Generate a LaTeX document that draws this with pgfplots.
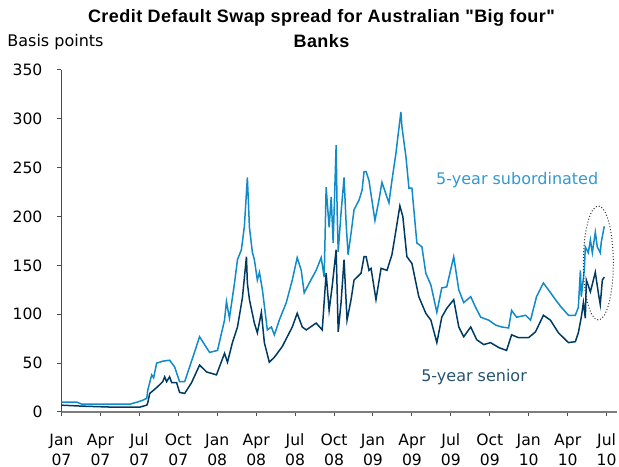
\documentclass[border=0pt]{standalone}
\usepackage{fontspec}
\setmainfont{DejaVu Sans}
\newfontfamily\titlefont[LetterSpace=2.5]{Liberation Sans}
\usepackage{pgfplots}
\pgfplotsset{compat=1.18}
\usetikzlibrary{calc}
\definecolor{subc}{RGB}{16,138,200}
\definecolor{senc}{RGB}{0,58,99}
\definecolor{sublab}{RGB}{52,152,207}
\definecolor{senlab}{RGB}{38,84,114}
\definecolor{axgray}{RGB}{125,125,125}
\begin{document}
\begin{tikzpicture}
\begin{axis}[
  scale only axis,
  width=277.75pt, height=171pt,
  xmin=0, xmax=42.8, ymin=0, ymax=350,
  axis x line=bottom, axis y line=left,
  x axis line style={-, line width=1pt, color=axgray},
  y axis line style={-, line width=0.6pt, color=black!70},
  tick align=outside,
  major tick length=2pt,
  tick style={color=black!70, line width=0.5pt},
  xtick={0,3,...,42},
  xticklabels={Jan\\07,Apr\\07,Jul\\07,Oct\\07,Jan\\08,Apr\\08,Jul\\08,Oct\\08,Jan\\09,Apr\\09,Jul\\09,Oct\\09,Jan\\10,Apr\\10,Jul\\10},
  xticklabel style={align=center, font=\fontsize{7.8}{10}\selectfont, yshift=-5.5pt},
  ytick={0,50,...,350},
  yticklabel style={font=\fontsize{7.8}{10}\selectfont, xshift=-4pt},
  /pgf/number format/assume math mode=true,
  clip=false,
]
\addplot[subc, line width=0.75pt] coordinates {
(0,10)(1.19,10)(1.57,8)(3.72,8)(5.26,8)(5.80,10)(6.26,12)(6.57,14)(6.64,22)(6.95,38)(7.10,35)(7.33,50)(7.80,52)(8.33,53)(8.72,46)(9.10,31)(9.49,31)(9.87,46)(10.64,77)(11.02,69)(11.41,61)(12.02,63)(12.56,94)(12.71,113)(12.94,96)(13.33,132)(13.56,156)(13.86,166)(14.09,190)(14.32,240)(14.40,215)(14.48,189)(14.71,163)(14.86,156)(15.09,135)(15.25,143)(15.48,125)(15.86,84)(16.17,87)(16.40,79)(16.78,94)(17.32,112)(17.78,135)(18.16,158)(18.47,145)(18.70,122)(19.09,132)(19.62,145)(20.01,158)(20.24,138)(20.39,230)(20.62,189)(20.78,220)(20.93,173)(21.16,273)(21.24,204)(21.32,164)(21.54,204)(21.77,240)(21.93,193)(22.08,161)(22.31,183)(22.54,207)(22.93,217)(23.16,227)(23.31,246)(23.47,246)(23.69,237)(24.15,196)(24.46,217)(24.69,235)(25.23,214)(25.46,237)(25.77,265)(25.92,282)(26.15,307)(26.23,292)(26.54,261)(26.77,229)(27.00,229)(27.38,173)(27.77,169)(28.07,142)(28.46,130)(28.92,102)(29.30,127)(29.68,128)(30.22,159)(30.61,125)(30.99,112)(31.53,118)(31.91,107)(32.30,97)(32.91,94)(33.45,89)(33.91,87)(34.45,86)(34.68,104)(35.06,97)(35.76,99)(36.14,94)(36.60,118)(37.13,132)(37.52,125)(38.06,115)(38.52,107)(39.06,99)(39.59,99)(39.82,107)(39.98,145)(40.05,118)(40.28,145)(40.36,169)(40.59,163)(40.75,176)(40.90,163)(41.13,184)(41.28,169)(41.51,163)(41.59,174)(41.82,190)
};
\addplot[senc, line width=0.75pt] coordinates {
(0,7)(1.57,6)(3.88,5)(6.03,5)(6.57,7)(6.64,9)(6.80,19)(7.33,25)(7.57,28)(7.80,31)(7.95,36)(8.10,31)(8.33,36)(8.49,30)(8.87,30)(9.10,20)(9.49,19)(10.02,30)(10.64,48)(11.18,41)(11.94,38)(12.56,60)(12.79,51)(13.17,71)(13.56,87)(13.94,117)(14.25,159)(14.32,132)(14.48,115)(14.86,91)(15.09,81)(15.40,102)(15.63,71)(16.01,51)(16.40,56)(17.01,67)(17.78,87)(18.16,101)(18.55,87)(18.86,84)(19.62,91)(20.09,84)(20.39,142)(20.62,104)(20.85,128)(21.16,166)(21.32,82)(21.54,112)(21.77,156)(22.00,94)(22.31,115)(22.54,135)(23.08,142)(23.31,159)(23.47,159)(23.69,145)(23.85,147)(24.23,115)(24.62,147)(25.08,145)(25.46,161)(25.77,186)(26.07,211)(26.30,200)(26.61,159)(27.00,152)(27.53,118)(28.07,101)(28.46,94)(28.92,71)(29.30,97)(29.68,106)(30.22,115)(30.61,87)(30.99,77)(31.53,87)(31.99,74)(32.53,69)(33.06,71)(33.68,66)(34.29,63)(34.68,79)(35.22,76)(35.98,76)(36.52,82)(37.13,99)(37.67,94)(38.29,81)(39.06,71)(39.59,72)(39.82,81)(40.05,97)(40.21,112)(40.36,96)(40.44,135)(40.75,123)(41.13,143)(41.36,122)(41.51,110)(41.67,135)(41.82,138)
};
\draw[black!80, line width=0.5pt, dash pattern=on 0.5pt off 1pt] (axis cs:41.36,152.5) ellipse [x radius=7.5pt, y radius=28.5pt];
\node[anchor=base west, inner sep=0pt, text=sublab, font=\fontsize{8}{10}\selectfont] at (axis cs:28.84,233) {5-year subordinated};
\node[anchor=base west, inner sep=0pt, text=senlab, font=\fontsize{8}{10}\selectfont] at (axis cs:27.69,30.7) {5-year senior};
\node[anchor=base west, inner sep=0pt, font=\fontsize{8}{10}\selectfont] at ($(rel axis cs:0,1)+(-27.25pt,11.5pt)$) {Basis points};
\node[anchor=base, inner sep=0pt, font=\titlefont\bfseries\fontsize{9}{11}\selectfont] at ($(rel axis cs:0.468,1)+(0,23.5pt)$) {Credit Default Swap spread for Australian "Big four"};
\node[anchor=base, inner sep=0pt, font=\titlefont\bfseries\fontsize{9}{11}\selectfont] at ($(rel axis cs:0.468,1)+(0,11pt)$) {Banks};
\end{axis}
\pgfresetboundingbox
\path ($(current axis.south west)+(-30.75pt,-27.5pt)$) rectangle ($(current axis.north east)+(1pt,35pt)$);
\end{tikzpicture}
\end{document}
